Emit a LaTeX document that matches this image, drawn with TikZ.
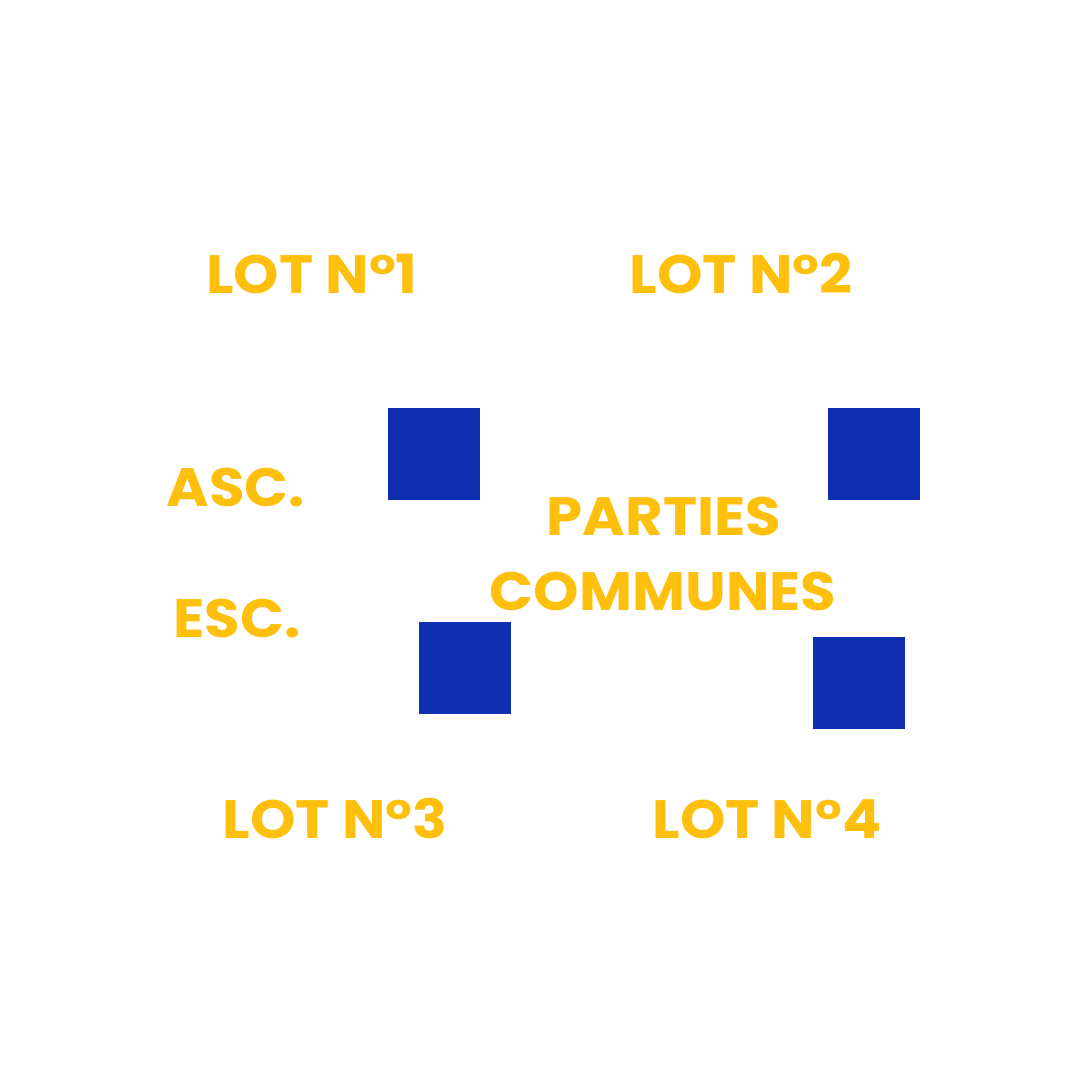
\documentclass[tikz,border=0pt]{standalone}
\usepackage{fontspec}
\setmainfont{Poppins}[BoldFont={* Bold}]
\newfontfamily\lblfont{Poppins Bold}[FakeStretch=1.07]
\definecolor{lotyellow}{HTML}{FFBF0D}
\definecolor{lotblue}{HTML}{0F2DAF}
\begin{document}
\begin{tikzpicture}[x=0.5pt,y=-0.5pt,
  lbl/.style={anchor=base,inner sep=0pt,text=lotyellow,font=\lblfont\fontsize{27}{30}\selectfont},
  sq/.style={fill=lotblue,inner sep=0pt,minimum size=46pt,draw=none}]
\useasboundingbox[fill=white] (0,0) rectangle (1080,1080);
\node[lbl] (lot1) at (312,293) {LOT N°1};
\node[lbl] (lot2) at (741,293) {LOT N°2};
\node[lbl] (asc) at (236,506) {ASC.};
\node[lbl] (esc) at (237,637) {ESC.};
\node[lbl] (parties) at (664,535) {PARTIES};
\node[lbl] (communes) at (663,610) {COMMUNES};
\node[lbl] (lot3) at (335,838) {LOT N°3};
\node[lbl] (lot4) at (767,838) {LOT N°4};
\node[sq] (s1) at (433.5,454) {};
\node[sq] (s2) at (874,454) {};
\node[sq] (s3) at (464.5,668) {};
\node[sq] (s4) at (859,683) {};
\end{tikzpicture}
\end{document}
